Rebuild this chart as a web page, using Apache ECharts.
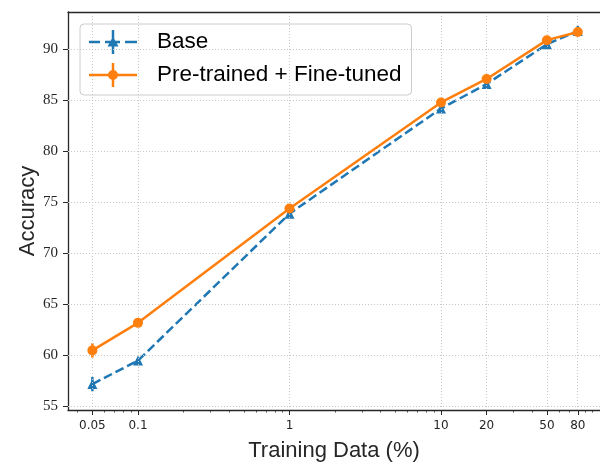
<!DOCTYPE html>
<html><head><meta charset="utf-8">
<script src="https://cdn.jsdelivr.net/npm/echarts@6/dist/echarts.min.js"></script>
<style>html,body{margin:0;padding:0;background:#fff}#c{width:600px;height:462px}</style>
</head><body><div id="c"></div>
<script>
// ---- data ----
const trainingPct = [0.05, 0.1, 1, 10, 20, 50, 80];
const xTickLabels = ['0.05', '0.1', '1', '10', '20', '50', '80'];
const xMinorTicks = [0.04, 0.06, 0.07, 0.08, 0.09, 0.2, 0.3, 0.4, 0.5, 0.6, 0.7, 0.8, 0.9,
  2, 3, 4, 5, 6, 7, 8, 9, 30, 40, 60, 70, 90, 100];
const yTicks = [55, 60, 65, 70, 75, 80, 85, 90];
const baseAcc = [57.2, 59.5, 73.9, 84.2, 86.6, 90.5, 91.8];
const baseErr = [0.7, 0.2, 0.2, 0.2, 0.2, 0.3, 0.5];
const ftAcc = [60.5, 63.2, 74.4, 84.8, 87.1, 90.9, 91.7];
const ftErr = [0.7, 0.2, 0.2, 0.2, 0.2, 0.2, 0.1];
const seriesNames = ['Base', 'Pre-trained + Fine-tuned'];

// ---- chart ----
const BLUE = '#1f77b4', ORANGE = '#ff7f0e', AX = '#262626';
const X_MIN = -1.462, X_MAX = 2.0495, Y_MIN = 54.66, Y_MAX = 93.66;
const lg = v => Math.log10(v);
const xTickVals = trainingPct.map(lg);
const xMinorVals = xMinorTicks.map(lg);

function errSeries(name, acc, err, color, z) {
  return {
    type: 'custom', name: name, z: z, silent: true, animation: false,
    data: trainingPct.map((p, i) => [lg(p), acc[i] - err[i], acc[i] + err[i]]),
    renderItem: (params, api) => {
      const a = api.coord([api.value(0), api.value(1)]);
      const b = api.coord([api.value(0), api.value(2)]);
      return { type: 'line', shape: { x1: a[0], y1: a[1], x2: b[0], y2: b[1] },
        style: { stroke: color, lineWidth: 2.5 } };
    }
  };
}

const basePath = 'path://M0 10.75H11V13.25H0Z M16 10.75H31V13.25H16Z M36 10.75H48V13.25H36Z M22.75 0H25.25V24H22.75Z M24 6.5L29.5 16.5H18.5Z';
const ftPath = 'path://M0 10.75H48V13.25H0Z M22.75 0H25.25V24H22.75Z M19 12A5 5 0 1 1 29 12A5 5 0 1 1 19 12Z';

const gridLine = { color: '#c8c8c8', width: 1, type: [1, 2] };

const option = {
  animation: false,
  backgroundColor: '#fff',
  grid: { left: 68, right: 0, top: 12, bottom: 52, containLabel: false, outerBoundsMode: 'none' },
  legend: {
    data: [{ name: seriesNames[0], icon: basePath }, { name: seriesNames[1], icon: ftPath }],
    orient: 'vertical', left: 80, top: 24, itemWidth: 48, itemHeight: 24, itemGap: 9,
    padding: [6, 10, 8, 9], backgroundColor: 'rgba(255,255,255,0.8)',
    borderColor: '#cccccc', borderWidth: 1, borderRadius: 4, selectedMode: false,
    itemStyle: { borderWidth: 0 },
    textStyle: { fontSize: 22.5, fontFamily: 'Liberation Sans', color: '#000', padding: [0, 0, 0, 15] }
  },
  xAxis: [
    {
      type: 'value', min: X_MIN, max: X_MAX, position: 'bottom',
      axisLine: { show: true, onZero: false, lineStyle: { color: AX, width: 1.3 } },
      axisTick: { show: true, customValues: xTickVals, length: 5, lineStyle: { color: AX, width: 1 } },
      axisLabel: {
        customValues: xTickVals, margin: 10, fontSize: 12, fontFamily: "'DejaVu Sans', sans-serif", color: AX,
        formatter: v => { const i = xTickVals.findIndex(t => Math.abs(t - v) < 1e-6); return i >= 0 ? xTickLabels[i] : ''; }
      },
      splitLine: { show: false },
      name: 'Training Data (%)', nameLocation: 'middle', nameGap: 30, nameMoveOverlap: false,
      nameTextStyle: { fontSize: 22, fontFamily: 'Liberation Sans', color: AX }
    },
    {
      type: 'value', min: X_MIN, max: X_MAX, position: 'bottom', offset: 0,
      axisLine: { show: false, onZero: false },
      axisTick: { show: true, customValues: xMinorVals, length: 2.5, lineStyle: { color: AX, width: 0.8 } },
      axisLabel: { show: false }, splitLine: { show: false }
    },
    {
      type: 'value', min: X_MIN, max: X_MAX, position: 'top',
      axisLine: { show: true, onZero: false, lineStyle: { color: AX, width: 1.3 } },
      axisTick: { show: false }, axisLabel: { show: false }, splitLine: { show: false }
    }
  ],
  yAxis: {
    type: 'value', min: Y_MIN, max: Y_MAX, position: 'left',
    axisLine: { show: true, onZero: false, lineStyle: { color: AX, width: 1.3 } },
    axisTick: { show: true, customValues: yTicks, length: 5, lineStyle: { color: AX, width: 1 } },
    axisLabel: { customValues: yTicks, margin: 10, fontSize: 15, fontFamily: "'Liberation Serif', serif", color: AX },
    splitLine: { show: false },
    name: 'Accuracy', nameLocation: 'middle', nameGap: 29, nameMoveOverlap: false,
    nameTextStyle: { fontSize: 22, fontFamily: 'Liberation Sans', color: AX }
  },
  series: [
    {
      type: 'line', name: 'gridlines', data: [], z: 1, silent: true,
      markLine: {
        silent: true, symbol: ['none', 'none'], label: { show: false }, animation: false,
        lineStyle: gridLine,
        data: yTicks.map(v => ({ yAxis: v })).concat(xTickVals.map(v => ({ xAxis: v })))
      }
    },
    errSeries('baseErr', baseAcc, baseErr, BLUE, 2),
    {
      type: 'line', name: seriesNames[0], z: 3,
      data: trainingPct.map((p, i) => [lg(p), baseAcc[i]]),
      symbol: 'triangle', symbolSize: 10,
      lineStyle: { color: BLUE, width: 2.5, type: [9, 4] },
      itemStyle: { color: BLUE, borderWidth: 0 }
    },
    errSeries('ftErr', ftAcc, ftErr, ORANGE, 4),
    {
      type: 'line', name: seriesNames[1], z: 5,
      data: trainingPct.map((p, i) => [lg(p), ftAcc[i]]),
      symbol: 'circle', symbolSize: 10,
      lineStyle: { color: ORANGE, width: 2.5 },
      itemStyle: { color: ORANGE, borderWidth: 0 }
    }
  ]
};
echarts.init(document.getElementById('c'), null, { renderer: 'canvas' }).setOption(option);
</script></body></html>
